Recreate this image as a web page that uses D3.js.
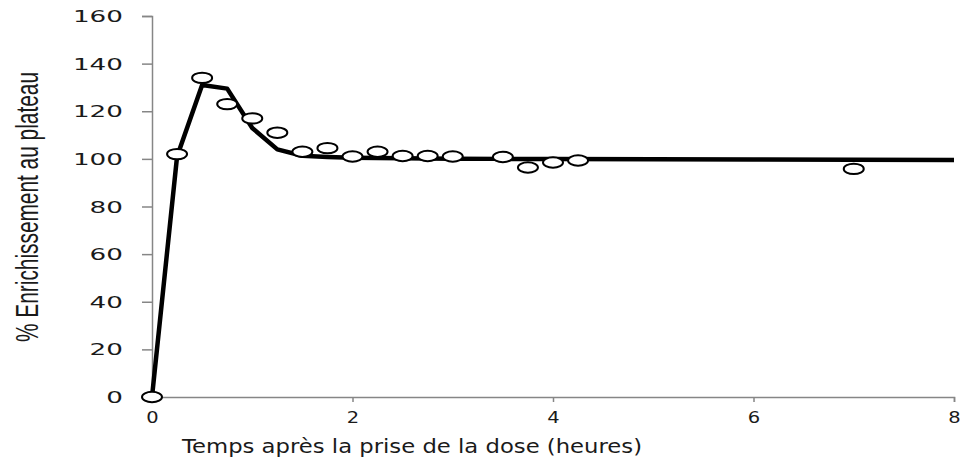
<!DOCTYPE html>
<html>
<head>
<meta charset="utf-8">
<script src="https://cdn.jsdelivr.net/npm/d3@7"></script>
<style>
  body { margin: 0; background: #fff; }
  svg { display: block; }
</style>
</head>
<body>
<div id="chart"></div>
<script>
// observed enrichment (hours, % of plateau)
const obsHours = [0, 0.25, 0.5, 0.75, 1, 1.25, 1.5, 1.75, 2, 2.25, 2.5, 2.75, 3, 3.5, 3.75, 4, 4.25, 7];
const obsValues = [0, 102, 134, 123, 117, 111, 103, 104.5, 101, 103, 101.2, 101.2, 101, 100.8, 96.4, 98.5, 99.3, 95.8];

// fitted curve
const fitHours = [0, 0.25, 0.5, 0.75, 1, 1.25, 1.5, 1.75, 2, 2.5, 3, 3.5, 4, 5, 6, 7, 8];
const fitValues = [0, 101, 131, 129.5, 113, 104, 101.3, 100.8, 100.5, 100.3, 100.1, 100, 99.9, 99.8, 99.7, 99.6, 99.5];

const xTicks = [0, 2, 4, 6, 8];
const yTicks = [0, 20, 40, 60, 80, 100, 120, 140, 160];

const width = 962, height = 460;
const margin = { top: 16, right: 8, bottom: 63, left: 152 };

const svg = d3.select("#chart").append("svg")
  .attr("width", width)
  .attr("height", height);

const x = d3.scaleLinear().domain([0, 8]).range([margin.left, 954]);
const y = d3.scaleLinear().domain([0, 160]).range([height - margin.bottom, margin.top]);

const axisColor = "#868686";

// y axis
const yAxis = svg.append("g")
  .attr("transform", `translate(${margin.left},0)`)
  .call(d3.axisLeft(y).tickValues(yTicks).tickSize(10).tickPadding(0).tickFormat(d3.format("d")));
yAxis.select(".domain").attr("stroke", axisColor).attr("stroke-width", 1.5);
yAxis.selectAll(".tick line").attr("stroke", axisColor).attr("stroke-width", 1.5);
yAxis.selectAll(".tick text")
  .attr("x", null)
  .attr("dy", null)
  .attr("text-anchor", "end")
  .attr("font-family", "DejaVu Sans, Verdana, sans-serif")
  .attr("font-size", 15)
  .attr("fill", "#1a1a1a")
  .attr("transform", "translate(-29,5.5) scale(1.75,1)");

// x axis
const xAxis = svg.append("g")
  .attr("transform", `translate(0,${y(0)})`)
  .call(d3.axisBottom(x).tickValues(xTicks).tickSize(5).tickPadding(0).tickFormat(d3.format("d")));
xAxis.select(".domain").attr("stroke", axisColor).attr("stroke-width", 1.5);
xAxis.selectAll(".tick line").attr("stroke", axisColor).attr("stroke-width", 1.5);
xAxis.selectAll(".tick text")
  .attr("y", null)
  .attr("dy", null)
  .attr("text-anchor", "middle")
  .attr("font-family", "DejaVu Sans, Verdana, sans-serif")
  .attr("font-size", 15)
  .attr("fill", "#1a1a1a")
  .attr("transform", "translate(0,26) scale(1.3,1)");

// fitted line
const line = d3.line().x(d => x(d[0])).y(d => y(d[1]));
svg.append("path")
  .datum(fitHours.map((h, i) => [h, fitValues[i]]))
  .attr("fill", "none")
  .attr("stroke", "#000")
  .attr("stroke-width", 4.5)
  .attr("stroke-linejoin", "round")
  .attr("d", line);

// observed points
svg.append("g").selectAll("ellipse")
  .data(obsHours.map((h, i) => [h, obsValues[i]]))
  .join("ellipse")
    .attr("cx", d => x(d[0]))
    .attr("cy", d => y(d[1]))
    .attr("rx", 10)
    .attr("ry", 5.2)
    .attr("fill", "#fff")
    .attr("stroke", "#000")
    .attr("stroke-width", 2);

// axis titles
svg.append("text")
  .attr("x", 182)
  .attr("y", 453)
  .attr("font-family", "DejaVu Sans, Verdana, sans-serif")
  .attr("font-size", 19)
  .attr("fill", "#1a1a1a")
  .attr("textLength", 460)
  .attr("lengthAdjust", "spacingAndGlyphs")
  .text("Temps après la prise de la dose (heures)");

// rotated title: narrow, tall glyphs -> natural width then stretched across
svg.append("text")
  .attr("transform", "translate(38,342) rotate(-90) scale(1,1.49)")
  .attr("font-family", "Liberation Sans, Arial, sans-serif")
  .attr("font-size", 20.8)
  .attr("fill", "#1a1a1a")
  .attr("textLength", 270)
  .attr("lengthAdjust", "spacingAndGlyphs")
  .text("% Enrichissement au plateau");
</script>
</body>
</html>
